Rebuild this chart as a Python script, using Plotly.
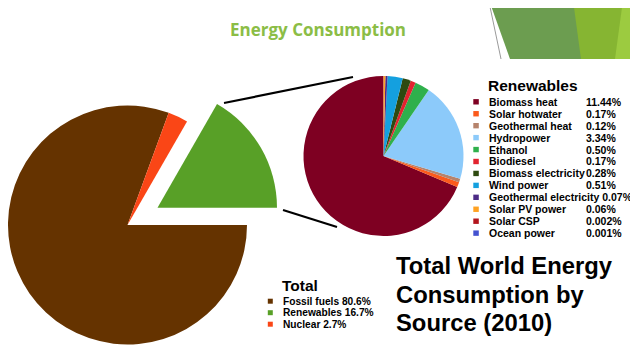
import math
import plotly.graph_objects as go

# ---------------- data ----------------
total_labels = ["Fossil fuels", "Renewables", "Nuclear"]
total_values = [80.6, 16.7, 2.7]
total_colors = ["#653300", "#58a027", "#fa4616"]

renew_labels = ["Biomass heat", "Solar hotwater", "Geothermal heat", "Hydropower",
                "Ethanol", "Biodiesel", "Biomass electricity", "Wind power",
                "Geothermal electricity", "Solar PV power", "Solar CSP", "Ocean power"]
renew_values = [11.44, 0.17, 0.12, 3.34, 0.50, 0.17, 0.28, 0.51, 0.07, 0.06, 0.002, 0.001]
renew_value_text = ["11.44%", "0.17%", "0.12%", "3.34%", "0.50%", "0.17%", "0.28%",
                    "0.51%", "0.07%", "0.06%", "0.002%", "0.001%"]
renew_colors = ["#7e0022", "#fb5a1c", "#b6836c", "#8ccafa", "#2fb04c", "#e2232f",
                "#2e4a10", "#14a0df", "#4c2b86", "#ffa222", "#b3151d", "#4452d0"]

# ---------------- layout helpers ----------------
# the page body has an 8px margin, so the figure is drawn 8px in from the window edge
OX, OY = 8, 8
W, H = 630, 351
def px(x):
    return (x - OX) / W
def py(y):
    return 1 - (y - OY) / H

fig = go.Figure()

# Big "Total" pie (renewables slice pulled out, drawn as separate layer)
cx, cy, r = 127.5, 225, 119.5
tot = sum(total_values)
ren_idx = total_labels.index("Renewables")
rot = 90  # first slice starts at 3 o'clock
pull = 0.29
bis = math.radians(360 * total_values[ren_idx] / tot / 2)
dx, dy = pull * r * math.cos(bis), -pull * r * math.sin(bis)

base_colors = [c if i != ren_idx else "rgba(0,0,0,0)" for i, c in enumerate(total_colors)]
fig.add_trace(go.Pie(
    labels=total_labels, values=total_values, sort=False,
    direction="counterclockwise", rotation=rot,
    marker=dict(colors=base_colors, line=dict(width=0)),
    textinfo="none", hoverinfo="label+percent", showlegend=False,
    domain=dict(x=[max(0, px(cx - r)), px(cx + r)], y=[py(cy + r), py(cy - r)])))

pulled_colors = [c if i == ren_idx else "rgba(0,0,0,0)" for i, c in enumerate(total_colors)]
fig.add_trace(go.Pie(
    labels=total_labels, values=total_values, sort=False,
    direction="counterclockwise", rotation=rot,
    marker=dict(colors=pulled_colors, line=dict(width=0)),
    textinfo="none", hoverinfo="skip", showlegend=False,
    domain=dict(x=[px(cx + dx - r), px(cx + dx + r)],
                y=[py(cy + dy + r), py(cy + dy - r)])))

# Renewables breakdown pie: first slice runs counterclockwise from 12 o'clock
rcx, rcy, rr = 383.5, 156, 80
rrot = -360 * renew_values[0] / sum(renew_values)
fig.add_trace(go.Pie(
    labels=renew_labels, values=renew_values, sort=False,
    direction="counterclockwise", rotation=rrot,
    marker=dict(colors=renew_colors, line=dict(width=0)),
    textinfo="none", hoverinfo="label+value", showlegend=False,
    domain=dict(x=[px(rcx - rr), px(rcx + rr)], y=[py(rcy + rr), py(rcy - rr)])))

shapes = []
annotations = []

# corner decoration
def poly(pts, color):
    path = "M " + " L ".join(f"{px(a)},{py(b)}" for a, b in pts) + " Z"
    return dict(type="path", xref="paper", yref="paper", path=path,
                fillcolor=color, line=dict(width=0), layer="below")

shapes.append(poly([(489, 0), (510, 59), (646, 59), (646, 0)], "#6c9d50"))
shapes.append(poly([(573, 0), (581, 59), (646, 59), (646, 0)], "#86b532"))
shapes.append(poly([(623, 0), (615, 59), (646, 59), (646, 0)], "#9ccb40"))
shapes.append(dict(type="line", xref="paper", yref="paper",
                   x0=px(489), y0=py(2), x1=px(501), y1=py(59),
                   line=dict(color="#9a9a9a", width=1)))

# connector lines
shapes.append(dict(type="line", xref="paper", yref="paper",
                   x0=px(224), y0=py(103), x1=px(353), y1=py(77),
                   line=dict(color="black", width=2.2)))
shapes.append(dict(type="line", xref="paper", yref="paper",
                   x0=px(283), y0=py(210), x1=px(337), y1=py(227),
                   line=dict(color="black", width=2.2)))

# title
annotations.append(dict(text="<b>Energy Consumption</b>", x=px(318.3), y=py(29),
                        xref="paper", yref="paper", showarrow=False,
                        xanchor="center", yanchor="middle",
                        font=dict(family="Open Sans", size=17, color="#8bbd46")))

# Renewables legend
lf = "Arial, Liberation Sans, sans-serif"
annotations.append(dict(text="<b>Renewables</b>", x=px(486), y=py(85),
                        xref="paper", yref="paper", showarrow=False,
                        xanchor="left", yanchor="middle",
                        font=dict(family=lf, size=15.5, color="black")))
for i, (lab, vt, col) in enumerate(zip(renew_labels, renew_value_text, renew_colors)):
    yc = 101.8 + i * 11.94
    shapes.append(dict(type="rect", xref="paper", yref="paper",
                       x0=px(473.3), x1=px(478.8), y0=py(yc + 2.7), y1=py(yc - 2.7),
                       fillcolor=col, line=dict(width=0)))
    if len(lab) > 20:
        annotations.append(dict(text=f"<b>{lab} {vt}</b>", x=px(486.5), y=py(yc),
                                xref="paper", yref="paper", showarrow=False,
                                xanchor="left", yanchor="middle",
                                font=dict(family=lf, size=10.5, color="black")))
    else:
        annotations.append(dict(text=f"<b>{lab}</b>", x=px(486.5), y=py(yc),
                                xref="paper", yref="paper", showarrow=False,
                                xanchor="left", yanchor="middle",
                                font=dict(family=lf, size=10.5, color="black")))
        annotations.append(dict(text=f"<b>{vt}</b>", x=px(583.5), y=py(yc),
                                xref="paper", yref="paper", showarrow=False,
                                xanchor="left", yanchor="middle",
                                font=dict(family=lf, size=10.5, color="black")))

# Total legend
annotations.append(dict(text="<b>Total</b>", x=px(280), y=py(285),
                        xref="paper", yref="paper", showarrow=False,
                        xanchor="left", yanchor="middle",
                        font=dict(family=lf, size=15.5, color="black")))
for i, (lab, v, col) in enumerate(zip(total_labels, total_values, total_colors)):
    yc = 301.2 + i * 11.5
    shapes.append(dict(type="rect", xref="paper", yref="paper",
                       x0=px(267.8), x1=px(272.8), y0=py(yc + 2.5), y1=py(yc - 2.5),
                       fillcolor=col, line=dict(width=0)))
    annotations.append(dict(text=f"<b>{lab} {v:.1f}%</b>", x=px(280.5), y=py(yc),
                            xref="paper", yref="paper", showarrow=False,
                            xanchor="left", yanchor="middle",
                            font=dict(family=lf, size=10.2, color="black")))

# big caption (three lines, tight leading as in the slide)
caption_lines = ["Total World Energy", "Consumption by", "Source (2010)"]
for i, line in enumerate(caption_lines):
    annotations.append(dict(text=f"<b>{line}</b>", x=px(393.5), y=py(265.6 + i * 28.4),
                            xref="paper", yref="paper", showarrow=False,
                            xanchor="left", yanchor="middle",
                            font=dict(family=lf, size=23.8, color="black")))

fig.update_layout(width=W, height=H, margin=dict(l=0, r=0, t=0, b=0),
                  paper_bgcolor="white", plot_bgcolor="white",
                  shapes=shapes, annotations=annotations, showlegend=False)

fig.write_html("out.html")
